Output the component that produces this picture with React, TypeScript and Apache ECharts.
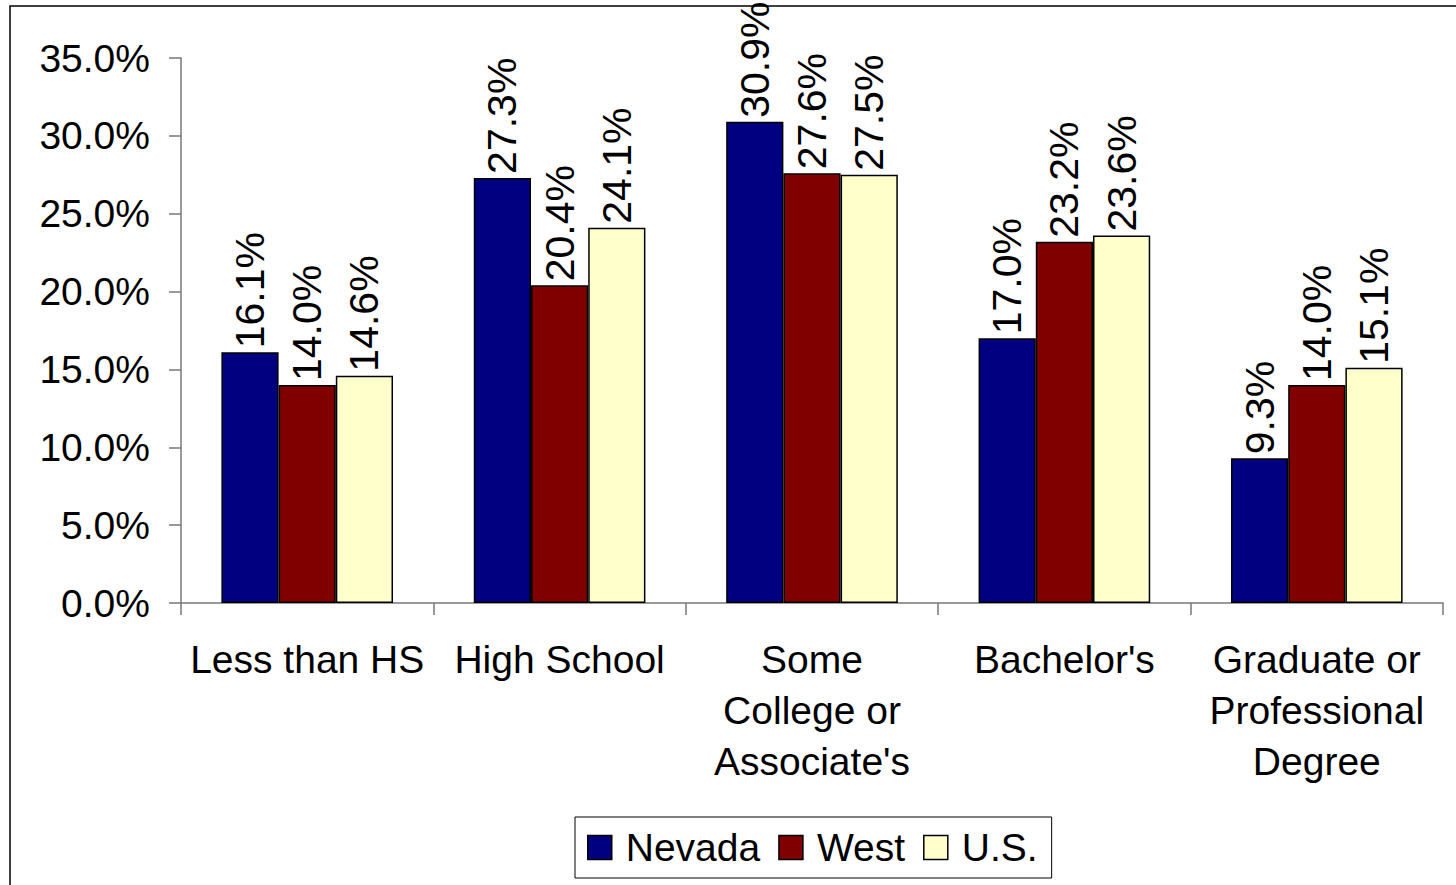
import React, { useEffect, useRef } from "react";
import * as echarts from "echarts";

const categories = [
  "Less than HS",
  "High School",
  "Some\nCollege or\nAssociate's",
  "Bachelor's",
  "Graduate or\nProfessional\nDegree",
];
const nevada = [16.1, 27.3, 30.9, 17.0, 9.3];
const west = [14.0, 20.4, 27.6, 23.2, 14.0];
const us = [14.6, 24.1, 27.5, 23.6, 15.1];
const seriesNames = ["Nevada", "West", "U.S."];
const seriesColors = ["#000080", "#800000", "#FFFFCC"];

const FONT = "'Liberation Sans', Arial, sans-serif";

export default function App() {
  const ref = useRef<HTMLDivElement>(null);
  useEffect(() => {
    if (!ref.current) return;
    const chart = echarts.init(ref.current, undefined, { renderer: "svg" });
    const data = [nevada, west, us];
    chart.setOption({
      animation: false,
      backgroundColor: "#ffffff",
      textStyle: { fontFamily: FONT },
      grid: { left: 181, right: 13, top: 58, bottom: 282, containLabel: false },
      graphic: [
        {
          type: "rect",
          shape: { x: 10, y: 6, width: 1500, height: 1000 },
          style: { fill: "none", stroke: "#000", lineWidth: 1.5 },
          silent: true,
        },
      ],
      legend: {
        left: 575,
        top: 817,
        orient: "horizontal",
        itemWidth: 24,
        itemHeight: 24,
        itemGap: 18,
        padding: [8, 14, 8, 12],
        borderColor: "#000",
        borderWidth: 1,
        backgroundColor: "#fff",
        icon: "rect",
        data: seriesNames,
        textStyle: {
          fontFamily: FONT,
          fontSize: 39,
          lineHeight: 45,
          color: "#000",
          padding: [0, 0, 0, 9],
        },
        itemStyle: { borderColor: "#000", borderWidth: 1.5 },
      },
      xAxis: {
        type: "category",
        data: categories,
        axisLine: { lineStyle: { color: "#777", width: 1.5 } },
        axisTick: { show: true, length: 12, lineStyle: { color: "#777", width: 1.5 } },
        axisLabel: {
          interval: 0,
          margin: 31,
          fontFamily: FONT,
          fontSize: 39,
          lineHeight: 51,
          color: "#000",
          align: "center",
        },
        splitLine: { show: false },
      },
      yAxis: {
        type: "value",
        min: 0,
        max: 35,
        interval: 5,
        axisLine: { show: true, lineStyle: { color: "#777", width: 1.5 } },
        axisTick: { show: true, length: 12, lineStyle: { color: "#777", width: 1.5 } },
        axisLabel: {
          margin: 31,
          fontFamily: FONT,
          fontSize: 39,
          color: "#000",
          formatter: (v: number) => v.toFixed(1) + "%",
        },
        splitLine: { show: false },
      },
      series: seriesNames.map((name, i) => ({
        name,
        type: "bar",
        data: data[i],
        barGap: "0%",
        barCategoryGap: "32%",
        itemStyle: { color: seriesColors[i], borderColor: "#000", borderWidth: 1.5 },
        label: {
          show: true,
          position: "top",
          rotate: 90,
          align: "left",
          verticalAlign: "middle",
          distance: 4,
          fontFamily: FONT,
          fontSize: 41,
          color: "#000",
          formatter: (p: any) => Number(p.value).toFixed(1) + "%",
        },
      })),
    });
    return () => chart.dispose();
  }, []);
  return (
    <div
      ref={ref}
      style={{ position: "fixed", left: 0, top: 0, width: 1456, height: 885 }}
    />
  );
}
